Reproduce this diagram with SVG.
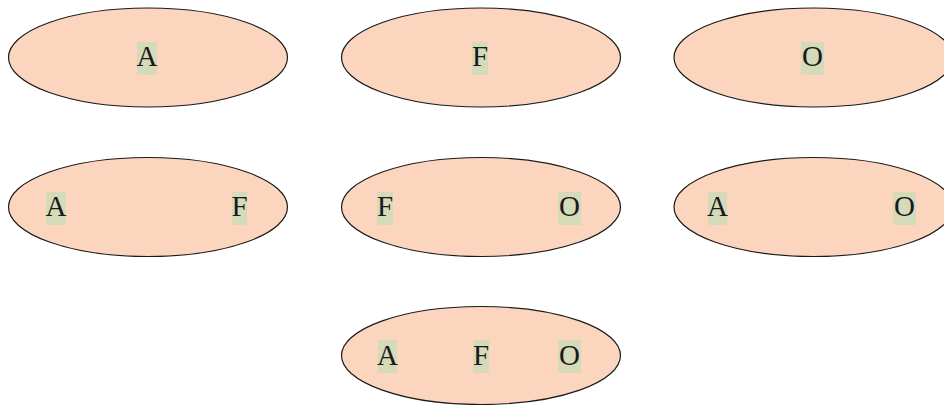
<svg xmlns="http://www.w3.org/2000/svg" width="944" height="405" viewBox="0 0 944 405">
<style>
.e{fill:#fcd5be;stroke:#1a1a1a;stroke-width:1.2}
.h{fill:#d5dbb9}
.t{font-family:"Liberation Serif","DejaVu Serif",serif;font-size:29px;fill:#1a1a1a;text-anchor:middle}
</style>
<rect width="944" height="405" fill="#fff"/>
<g id="n1"><ellipse class="e" cx="148" cy="57.5" rx="139.5" ry="49.5"/><rect class="h" x="137" y="42" width="20" height="33"/><text class="t" x="147" y="66">A</text></g>
<g id="n2"><ellipse class="e" cx="481" cy="57.5" rx="139.5" ry="49.5"/><rect class="h" x="472" y="42" width="16" height="33"/><text class="t" x="480" y="66">F</text></g>
<g id="n3"><ellipse class="e" cx="813.5" cy="57.5" rx="139.5" ry="49.5"/><rect class="h" x="801" y="42" width="23" height="33"/><text class="t" x="812.5" y="66">O</text></g>
<g id="n4"><ellipse class="e" cx="148" cy="207" rx="139.5" ry="49.5"/><rect class="h" x="46" y="192" width="20" height="33"/><text class="t" x="56" y="216">A</text><rect class="h" x="232" y="192" width="15" height="33"/><text class="t" x="239.5" y="216">F</text></g>
<g id="n5"><ellipse class="e" cx="481" cy="207" rx="139.5" ry="49.5"/><rect class="h" x="377" y="192" width="16" height="33"/><text class="t" x="385" y="216">F</text><rect class="h" x="558" y="192" width="23" height="33"/><text class="t" x="569.5" y="216">O</text></g>
<g id="n6"><ellipse class="e" cx="813.5" cy="207" rx="139.5" ry="49.5"/><rect class="h" x="708" y="192" width="19" height="33"/><text class="t" x="717.5" y="216">A</text><rect class="h" x="893" y="192" width="23" height="33"/><text class="t" x="904.5" y="216">O</text></g>
<g id="n7"><ellipse class="e" cx="481" cy="355.5" rx="139.5" ry="49"/><rect class="h" x="378" y="340" width="19" height="33"/><text class="t" x="387.5" y="365">A</text><rect class="h" x="473" y="340" width="16" height="33"/><text class="t" x="481" y="365">F</text><rect class="h" x="558" y="340" width="23" height="33"/><text class="t" x="569.5" y="365">O</text></g>
<g id="connectors"></g>
</svg>
